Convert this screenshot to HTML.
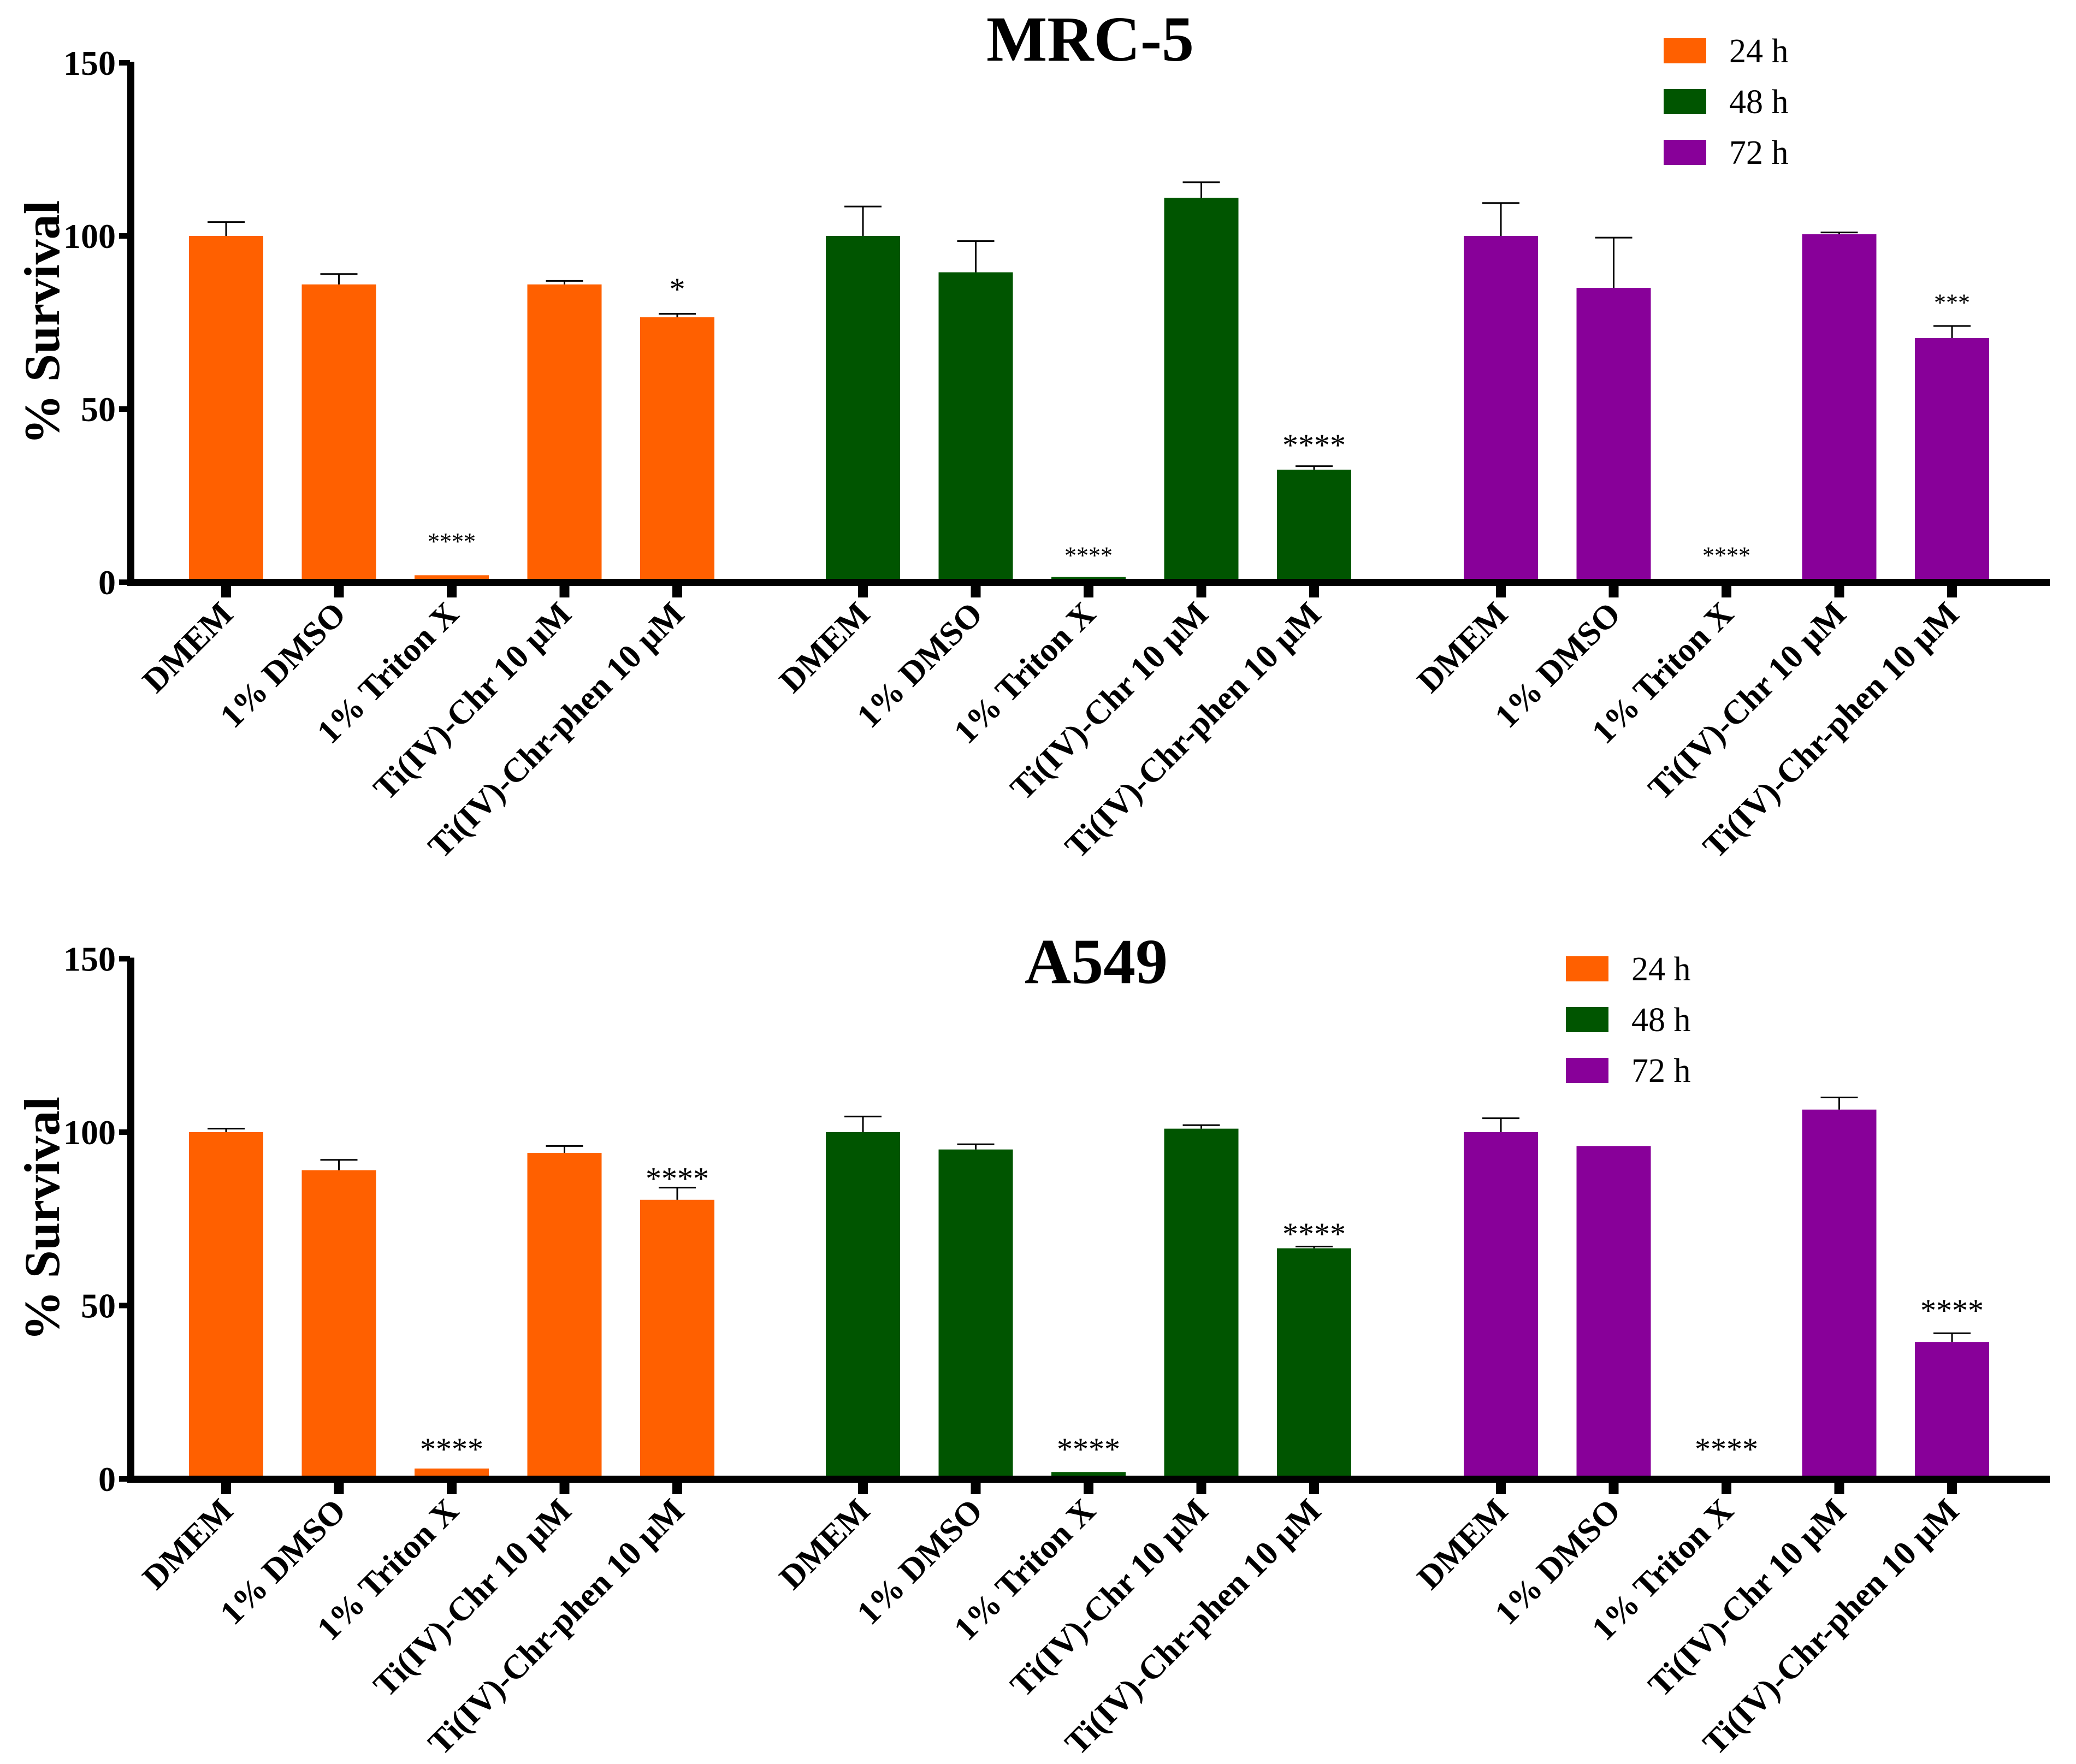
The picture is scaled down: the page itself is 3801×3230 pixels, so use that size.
<!DOCTYPE html>
<html><head><meta charset="utf-8"><style>
html,body{margin:0;padding:0;background:#fff;}
svg{display:block;font-family:"Liberation Serif",serif;}
</style></head><body>
<svg id="fig" width="3801" height="3230" viewBox="0 0 3801 3230" xmlns="http://www.w3.org/2000/svg"></svg>
<script>
// ---- data ----
const categories = ["DMEM","1% DMSO","1% Triton X","Ti(IV)-Chr 10 µM","Ti(IV)-Chr-phen 10 µM"];
const timepoints = ["24 h","48 h","72 h"];
const colors = ["#ff6000","#005500","#880099"];
const yTicks = [0,50,100,150];
// MRC-5
const mrc5_24 = [100,86,2,86,76.5];
const mrc5_24err = [104,89,2,87,77.5];
const mrc5_48 = [100,89.5,1.5,111,32.5];
const mrc5_48err = [108.5,98.5,1.7,115.5,33.5];
const mrc5_72 = [100,85,0,100.5,70.5];
const mrc5_72err = [109.5,99.5,0,101,74];
const mrc5_sig24 = ["","","****","","*"];
const mrc5_sig48 = ["","","****","","****"];
const mrc5_sig72 = ["","","****","","***"];
const mrc5_sigPos24 = [0,0,12,0,85];
const mrc5_sigPos48 = [0,0,8,0,40];
const mrc5_sigPos72 = [0,0,8,0,81];
// A549
const a549_24 = [100,89,3,94,80.5];
const a549_24err = [101,92,3.2,96,84];
const a549_48 = [100,95,2,101,66.5];
const a549_48err = [104.5,96.5,2.3,102,67];
const a549_72 = [100,96,0,106.5,39.5];
const a549_72err = [104,96.3,0,110,42];
const a549_sig24 = ["","","****","","****"];
const a549_sig48 = ["","","****","","****"];
const a549_sig72 = ["","","****","","****"];
const a549_sigPos24 = [0,0,9,0,87];
const a549_sigPos48 = [0,0,9,0,71];
const a549_sigPos72 = [0,0,9,0,49];

const NS="http://www.w3.org/2000/svg";
const svg=document.getElementById('fig');
function mk(tag,attrs,parent,text){const e=document.createElementNS(NS,tag);for(const k in attrs)e.setAttribute(k,attrs[k]);if(text!==undefined)e.textContent=text;(parent||svg).appendChild(e);return e;}

const groupStart=[414,1580,2748];
const barStep=206.5, barW=136;

function panel(cfg){
  const g=mk('g',{});
  
  
  const y0=cfg.y0, pxu=cfg.pxu;
  const yS=v=>y0-v*pxu;
  const xS=(gi,ci)=>groupStart[gi]+ci*barStep;
  const t=mk('text',{x:cfg.titleX,y:cfg.titleY,'text-anchor':'middle','font-size':118,'font-weight':'bold'},g,cfg.title);
  
  
  for(let gi=0;gi<3;gi++){
    for(let ci=0;ci<5;ci++){
      const v=cfg.vals[gi][ci], e=cfg.errs[gi][ci], cx=xS(gi,ci);
      if(v>0){
        const r=mk('rect',{x:cx-barW/2,y:yS(v),width:barW,height:y0-yS(v),fill:colors[gi]},g);
        
        
      }
      if(e>v+0.3){
        mk('line',{x1:cx,x2:cx,y1:yS(v),y2:yS(e),stroke:'#000','stroke-width':3},g);
        const cap=mk('line',{x1:cx-34,x2:cx+34,y1:yS(e),y2:yS(e),stroke:'#000','stroke-width':3},g);
        
        
      }
      const s=cfg.sig[gi][ci];
      if(s){
        const big=cfg.bigSig[gi][ci];
        const st=mk('text',{x:cx,y:yS(cfg.sigPos[gi][ci])+(big?22:16),'text-anchor':'middle','font-size':big?58:44},g,s);
        
        
      }
      mk('rect',{x:cx-9,y:y0,width:18,height:28,fill:'#000'},g);
      const lx=cx+16, ly=y0+62;
      const lb=mk('text',{x:lx,y:ly,'text-anchor':'end','font-size':62,'font-weight':'bold',transform:'rotate(-45 '+lx+' '+ly+')'},g,categories[ci]);
      
      
    }
  }
  const ya=mk('rect',{x:233,y:yS(150)-2,width:13,height:y0-yS(150)+8,fill:'#000'},g);
  
  
  const xa=mk('rect',{x:233,y:y0-6,width:3520,height:13,fill:'#000'},g);
  
  
  yTicks.forEach(v=>{
    mk('rect',{x:218,y:yS(v)-5,width:20,height:10,fill:'#000'},g);
    const tl=mk('text',{x:212,y:yS(v)+22,'text-anchor':'end','font-size':64,'font-weight':'bold'},g,String(v));
    
    
  });
  const yt=mk('text',{x:0,y:0,'text-anchor':'middle','font-size':92,'font-weight':'bold',transform:'translate(108 '+(yS(75))+') rotate(-90)'},g,'% Survival');
  
  
  timepoints.forEach((tp,i)=>{
    const ly=cfg.legY+i*cfg.legStep;
    const sw=mk('rect',{x:cfg.legX,y:ly-23,width:78,height:46,fill:colors[i]},g);
    
    
    const lt=mk('text',{x:cfg.legX+120,y:ly+21,'font-size':62},g,tp);
    
    
  });
}

panel({name:'mrc5',title:'MRC-5',titleX:1996,titleY:111,y0:1066,pxu:6.34,
  vals:[mrc5_24,mrc5_48,mrc5_72],errs:[mrc5_24err,mrc5_48err,mrc5_72err],
  sig:[mrc5_sig24,mrc5_sig48,mrc5_sig72],sigPos:[mrc5_sigPos24,mrc5_sigPos48,mrc5_sigPos72],
  bigSig:[[0,0,0,0,1],[0,0,0,0,1],[0,0,0,0,0]],
  legX:3046,legY:93,legStep:93});
panel({name:'a549',title:'A549',titleX:2007,titleY:1800,y0:2708,pxu:6.35,
  vals:[a549_24,a549_48,a549_72],errs:[a549_24err,a549_48err,a549_72err],
  sig:[a549_sig24,a549_sig48,a549_sig72],sigPos:[a549_sigPos24,a549_sigPos48,a549_sigPos72],
  bigSig:[[0,0,1,0,1],[0,0,1,0,1],[0,0,1,0,1]],
  legX:2867,legY:1774,legStep:93});
</script>
</body></html>
